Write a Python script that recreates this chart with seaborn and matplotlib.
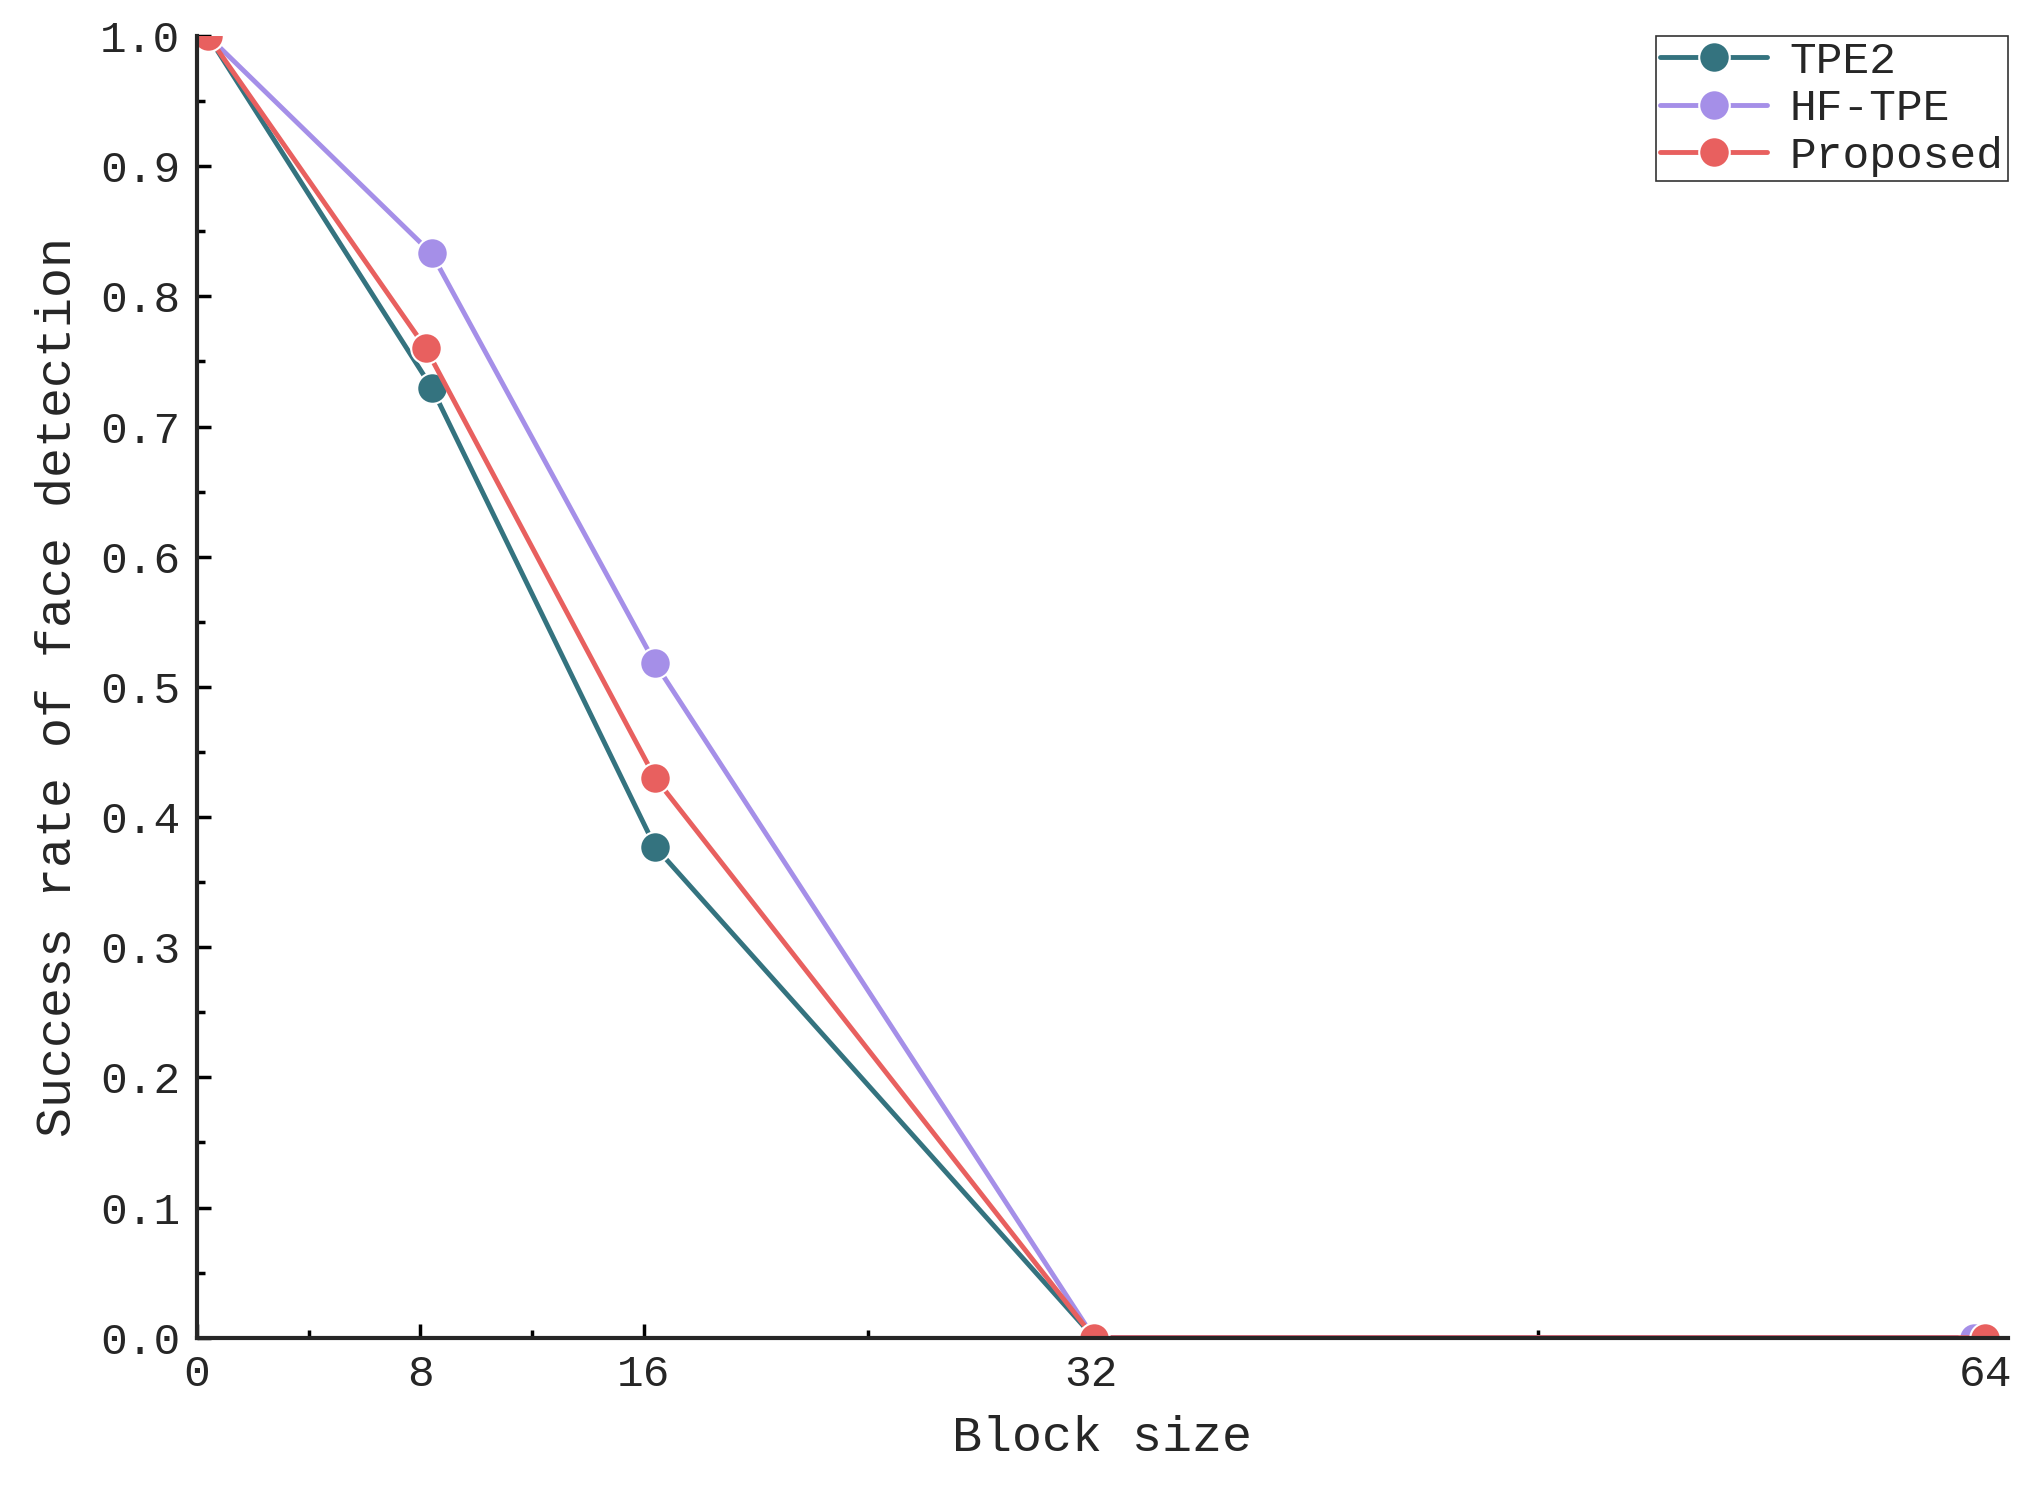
import numpy as np
import pandas as pd
import matplotlib.pyplot as plt
import seaborn as sns
from matplotlib.ticker import MultipleLocator, FixedLocator

# --- data ---
tpe2_x = [0.4, 8.4, 16.4, 32.1, 64.0]
tpe2_y = [1.0, 0.73, 0.377, 0.0, 0.0]
hf_x = [0.4, 8.4, 16.4, 32.1, 63.6]
hf_y = [1.0, 0.833, 0.518, 0.0, 0.0]
prop_x = [0.4, 8.2, 16.4, 32.1, 64.0]
prop_y = [1.0, 0.76, 0.43, 0.0, 0.0]
xticks = [0, 8, 16, 32, 64]

df = pd.concat([
    pd.DataFrame({"x": tpe2_x, "y": tpe2_y, "method": "TPE2"}),
    pd.DataFrame({"x": hf_x, "y": hf_y, "method": "HF-TPE"}),
    pd.DataFrame({"x": prop_x, "y": prop_y, "method": "Proposed"}),
])
palette = {"TPE2": "#34737f", "HF-TPE": "#a58fe8", "Proposed": "#e8605f"}

sns.set_theme(style="ticks")
plt.rcParams['font.family'] = ['Liberation Mono', 'DejaVu Sans Mono']

fig = plt.figure(figsize=(20.3, 15.03), dpi=100)
ax = fig.add_axes([0.097, 0.11, 0.892, 0.866])
sns.lineplot(data=df, x="x", y="y", hue="method", palette=palette, marker="o",
             markersize=22, markeredgecolor="white", markeredgewidth=1.5,
             linewidth=3.5, ax=ax, sort=False)

ax.set_xlim(0, 64.8)
ax.set_ylim(0, 1.0)
ax.xaxis.set_major_locator(FixedLocator(xticks))
ax.xaxis.set_minor_locator(FixedLocator([4, 12, 24, 48]))
ax.yaxis.set_major_locator(MultipleLocator(0.1))
ax.yaxis.set_minor_locator(MultipleLocator(0.05))
ax.yaxis.set_major_formatter(plt.FormatStrFormatter('%.1f'))
ax.tick_params(which="both", direction="in", width=2.5, labelsize=32, color="black")
ax.tick_params(which="major", length=10, pad=12)
ax.tick_params(which="minor", length=6)
for s in ["left", "bottom"]:
    ax.spines[s].set_linewidth(3)
sns.despine(ax=ax)
ax.set_xlabel("Block size", fontsize=36, labelpad=14)
ax.set_ylabel("Success rate of face detection", fontsize=36, labelpad=14)

leg = ax.legend(title=None, fontsize=32, loc="upper right", frameon=True,
                fancybox=False, edgecolor="black", borderpad=0.1,
                borderaxespad=0, handlelength=2.4, handletextpad=0.5,
                labelspacing=0.15, bbox_to_anchor=(1.0, 1.0))
leg.get_frame().set_linewidth(1.2)

fig.savefig("out.png", dpi=100)
